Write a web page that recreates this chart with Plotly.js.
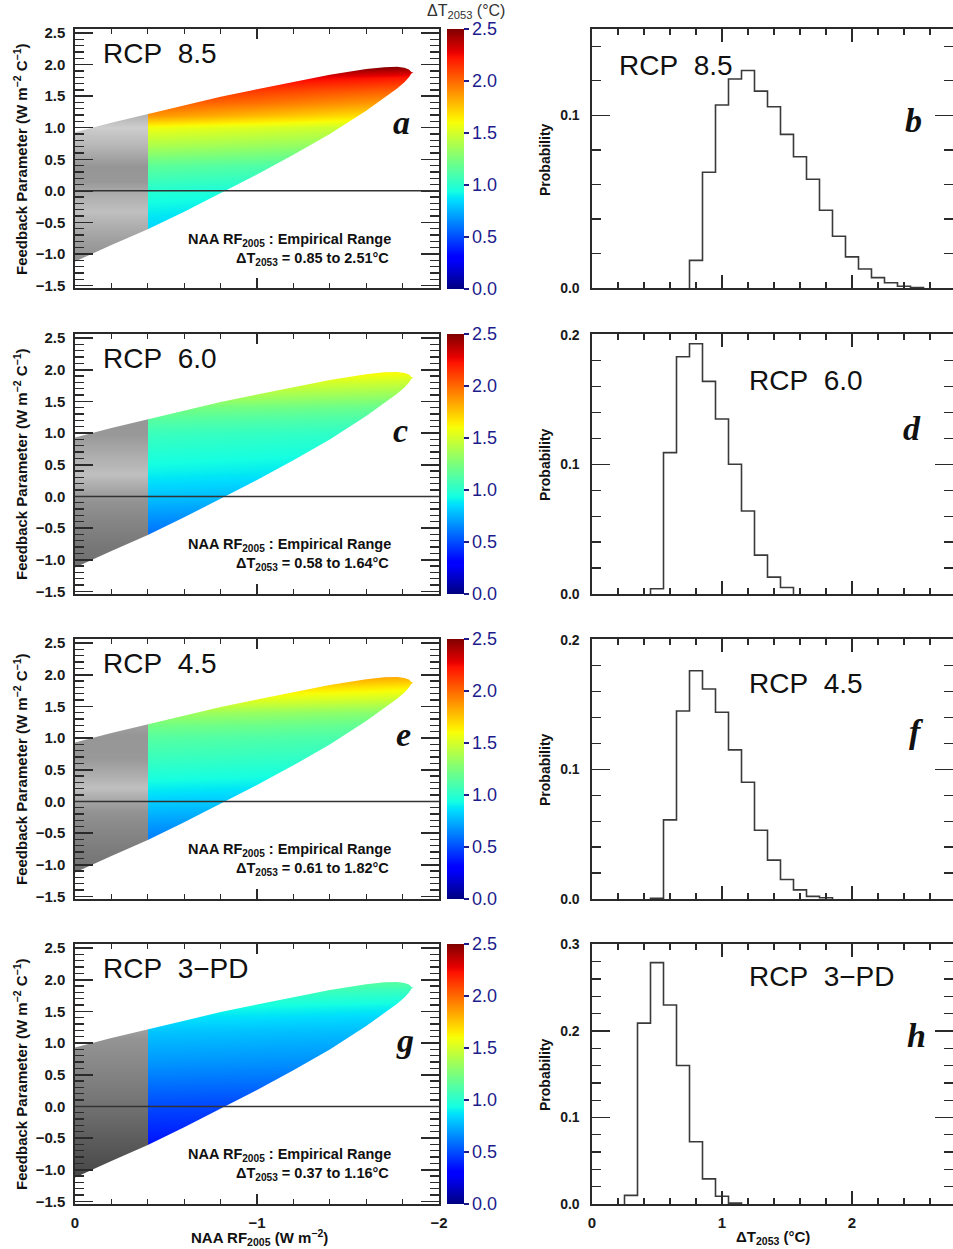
<!DOCTYPE html>
<html>
<head>
<meta charset="utf-8">
<script src="https://cdn.plot.ly/plotly-3.0.1.min.js"></script>
<style>html,body{margin:0;padding:0;background:#fff;}#chart{width:953px;height:1249px;}</style>
</head>
<body>
<div id="chart"></div>
<script>
// ---------------- DATA ----------------
const scenarios = ['RCP\u00a0\u00a08.5', 'RCP\u00a0\u00a06.0', 'RCP\u00a0\u00a04.5', 'RCP\u00a0\u00a03\u2212PD'];
const panelLettersLeft = ['a', 'c', 'e', 'g'];
const panelLettersRight = ['b', 'd', 'f', 'h'];
const dTRanges = ['0.85 to 2.51', '0.58 to 1.64', '0.61 to 1.82', '0.37 to 1.16'];

// empirical range boundary (NAA RF2005, feedback parameter)
const upperRF = [0, -0.2, -0.4, -0.6, -0.8, -1.0, -1.2, -1.4, -1.6, -1.7, -1.77, -1.81, -1.835, -1.848];
const upperLambda = [0.93, 1.08, 1.22, 1.36, 1.49, 1.61, 1.73, 1.84, 1.93, 1.96, 1.965, 1.95, 1.925, 1.885];
const lowerRF = [0, -0.2, -0.4, -0.6, -0.8, -1.0, -1.2, -1.4, -1.6, -1.7, -1.77, -1.81, -1.835, -1.848];
const lowerLambda = [-1.12, -0.86, -0.61, -0.33, -0.04, 0.26, 0.57, 0.90, 1.27, 1.47, 1.62, 1.72, 1.80, 1.86];
const empiricalRFEdge = -0.4;   // left of this: outside empirical range (grey)

// DeltaT2053 sampled on a coarse grid (rows: feedback parameter, cols: RF)
const gridRF = [-0.4, -1.0, -1.6, -1.9];
const gridLambda = [-1.2, -0.8, -0.4, 0, 0.4, 0.7, 1.0, 1.2, 1.4, 1.6, 1.8, 2.0];
const dT_rcp85 = [
  [0.74, 0.70, 0.66, 0.64],
  [0.80, 0.77, 0.74, 0.72],
  [0.88, 0.85, 0.82, 0.80],
  [0.98, 0.95, 0.92, 0.90],
  [1.16, 1.12, 1.08, 1.06],
  [1.38, 1.33, 1.28, 1.25],
  [1.58, 1.52, 1.46, 1.43],
  [1.88, 1.78, 1.68, 1.63],
  [2.05, 1.98, 1.88, 1.82],
  [2.20, 2.12, 2.04, 2.00],
  [2.40, 2.30, 2.24, 2.20],
  [2.68, 2.62, 2.56, 2.52]
];
const dT_rcp60 = [
  [0.46, 0.44, 0.42, 0.41],
  [0.53, 0.51, 0.49, 0.48],
  [0.65, 0.63, 0.61, 0.60],
  [0.79, 0.77, 0.75, 0.74],
  [0.91, 0.89, 0.87, 0.86],
  [0.98, 0.96, 0.94, 0.93],
  [1.05, 1.03, 1.01, 1.00],
  [1.13, 1.11, 1.09, 1.07],
  [1.24, 1.22, 1.19, 1.17],
  [1.40, 1.37, 1.33, 1.31],
  [1.55, 1.52, 1.48, 1.46],
  [1.72, 1.69, 1.66, 1.64]
];
const dT_rcp45 = [
  [0.48, 0.46, 0.44, 0.43],
  [0.56, 0.54, 0.52, 0.51],
  [0.68, 0.66, 0.64, 0.63],
  [0.82, 0.80, 0.78, 0.77],
  [0.96, 0.94, 0.92, 0.91],
  [1.05, 1.03, 1.01, 1.00],
  [1.13, 1.11, 1.09, 1.08],
  [1.22, 1.20, 1.17, 1.15],
  [1.36, 1.33, 1.29, 1.27],
  [1.56, 1.52, 1.47, 1.44],
  [1.75, 1.71, 1.66, 1.63],
  [1.95, 1.92, 1.88, 1.85]
];
const dT_rcp3pd = [
  [0.23, 0.22, 0.21, 0.20],
  [0.31, 0.30, 0.29, 0.28],
  [0.40, 0.39, 0.38, 0.37],
  [0.49, 0.48, 0.47, 0.46],
  [0.60, 0.59, 0.58, 0.57],
  [0.68, 0.67, 0.66, 0.65],
  [0.75, 0.74, 0.73, 0.72],
  [0.80, 0.79, 0.78, 0.77],
  [0.87, 0.86, 0.84, 0.83],
  [0.95, 0.94, 0.92, 0.91],
  [1.06, 1.05, 1.03, 1.02],
  [1.19, 1.18, 1.16, 1.15]
];
const dTGrids = [dT_rcp85, dT_rcp60, dT_rcp45, dT_rcp3pd];

// probability histograms of DeltaT2053 (bin centres, width 0.1)
const binWidth = 0.1;
const bins_rcp85 = [0.8, 0.9, 1.0, 1.1, 1.2, 1.3, 1.4, 1.5, 1.6, 1.7, 1.8, 1.9, 2.0, 2.1, 2.2, 2.3, 2.4, 2.5];
const prob_rcp85 = [0.016, 0.067, 0.106, 0.121, 0.126, 0.114, 0.105, 0.089, 0.076, 0.063, 0.045, 0.030, 0.018, 0.011, 0.006, 0.003, 0.001, 0.0003];
const bins_rcp60 = [0.5, 0.6, 0.7, 0.8, 0.9, 1.0, 1.1, 1.2, 1.3, 1.4, 1.5];
const prob_rcp60 = [0.004, 0.109, 0.183, 0.193, 0.164, 0.135, 0.100, 0.064, 0.030, 0.013, 0.005];
const bins_rcp45 = [0.5, 0.6, 0.7, 0.8, 0.9, 1.0, 1.1, 1.2, 1.3, 1.4, 1.5, 1.6, 1.7, 1.8];
const prob_rcp45 = [0.0005, 0.061, 0.145, 0.176, 0.162, 0.144, 0.115, 0.090, 0.053, 0.030, 0.015, 0.007, 0.002, 0.001];
const bins_rcp3pd = [0.3, 0.4, 0.5, 0.6, 0.7, 0.8, 0.9, 1.0, 1.1];
const prob_rcp3pd = [0.010, 0.209, 0.279, 0.230, 0.160, 0.072, 0.029, 0.009, 0.001];
const histBins = [bins_rcp85, bins_rcp60, bins_rcp45, bins_rcp3pd];
const histProb = [prob_rcp85, prob_rcp60, prob_rcp45, prob_rcp3pd];
const probAxisMax = [0.15, 0.2005, 0.2005, 0.3005];

// ---------------- STYLE / LAYOUT ----------------
const W = 953, H = 1249;
const FONT = 'Liberation Sans, Arial, sans-serif';
const SERIF = 'Liberation Serif, Times New Roman, serif';
const NAVY = '#1c1c8c';
const INK = '#1a1a1a';
const px = x => x / W;
const py = y => 1 - y / H;
const rowTop = [29, 334, 639, 944];
const rowH = 260;

const jet = [
  [0, 'rgb(0,0,128)'], [0.11, 'rgb(0,0,255)'], [0.125, 'rgb(0,0,255)'],
  [0.34, 'rgb(0,219,255)'], [0.35, 'rgb(0,229,247)'], [0.375, 'rgb(21,255,226)'],
  [0.5, 'rgb(123,255,123)'], [0.64, 'rgb(247,255,8)'], [0.66, 'rgb(255,236,0)'],
  [0.89, 'rgb(255,19,0)'], [0.91, 'rgb(232,0,0)'], [1, 'rgb(128,0,0)']
];
const greyScale = [
  [0, 'rgb(20,20,20)'], [0.108, 'rgb(75,75,75)'], [0.2, 'rgb(115,115,115)'],
  [0.308, 'rgb(148,148,148)'], [0.36, 'rgb(192,192,192)'], [0.42, 'rgb(152,152,152)'],
  [0.46, 'rgb(150,150,150)'], [0.552, 'rgb(182,182,182)'], [0.632, 'rgb(205,205,205)'],
  [0.8, 'rgb(170,170,170)'], [1, 'rgb(90,90,90)']
];

const data = [];
const layout = {
  width: W, height: H, margin: {l: 0, r: 0, t: 0, b: 0},
  paper_bgcolor: '#fff', plot_bgcolor: '#fff', showlegend: false,
  font: {family: FONT, color: INK},
  annotations: [], shapes: []
};

const axName = (n, c) => (n === 1 ? c : c + n);
const axKey = (n, c) => (n === 1 ? c + 'axis' : c + 'axis' + n);

for (let k = 0; k < 4; k++) {
  const li = 2 * k + 1, ri = 2 * k + 2;
  const top = rowTop[k], bot = rowTop[k] + rowH - (k === 0 ? 1 : 0);
  const ydom = [py(bot), py(top)];
  const lx = axName(li, 'x'), ly = axName(li, 'y');
  const rx = axName(ri, 'x'), ry = axName(ri, 'y');
  const grid = dTGrids[k];

  // colour field (inside empirical range)
  data.push({
    type: 'heatmap', x: gridRF, y: gridLambda, z: grid, xaxis: lx, yaxis: ly,
    zsmooth: 'best', zmin: 0, zmax: 2.5, colorscale: jet, hoverinfo: 'skip',
    showscale: true,
    colorbar: {
      x: px(447), xanchor: 'left', xpad: 0, thickness: 17, thicknessmode: 'pixels',
      y: py(top), yanchor: 'top', ypad: 0, len: rowH / H, lenmode: 'fraction',
      outlinewidth: 0, tickvals: [0, 0.5, 1, 1.5, 2, 2.5],
      ticktext: ['0.0', '0.5', '1.0', '1.5', '2.0', '2.5'],
      ticks: 'outside', ticklen: 5, tickwidth: 2, tickcolor: NAVY,
      tickfont: {family: FONT, size: 18, color: NAVY}
    }
  });
  // grey field (outside empirical range)
  data.push({
    type: 'heatmap', x: [0, empiricalRFEdge / 2, empiricalRFEdge], y: gridLambda,
    z: grid.map(r => [r[0], r[0]]), xaxis: lx, yaxis: ly,
    zsmooth: 'best', zmin: 0, zmax: 2.5, colorscale: greyScale, showscale: false, hoverinfo: 'skip'
  });
  // white masks outside the boundary
  const tipX = upperRF[upperRF.length - 1];
  data.push({
    type: 'scatter', mode: 'lines', xaxis: lx, yaxis: ly, hoverinfo: 'skip',
    x: [0.1].concat(upperRF, [tipX - 0.012, -1.9, -2.2, -2.2, 0.1]),
    y: [upperLambda[0]].concat(upperLambda, [1.873, 1.6, 1.6, 2.9, 2.9]),
    fill: 'toself', fillcolor: '#ffffff', line: {width: 0, color: 'rgba(0,0,0,0)'}
  });
  data.push({
    type: 'scatter', mode: 'lines', xaxis: lx, yaxis: ly, hoverinfo: 'skip',
    x: [0.1].concat(lowerRF, [tipX - 0.012, -1.9, -2.2, -2.2, 0.1]),
    y: [lowerLambda[0]].concat(lowerLambda, [1.873, 2.1, 2.1, -1.8, -1.8]),
    fill: 'toself', fillcolor: '#ffffff', line: {width: 0, color: 'rgba(0,0,0,0)'}
  });

  // histogram outline
  const b = histBins[k], p = histProb[k];
  const hx = [b[0] - binWidth / 2], hy = [0];
  for (let i = 0; i < b.length; i++) {
    hx.push(b[i] - binWidth / 2, b[i] + binWidth / 2);
    hy.push(p[i], p[i]);
  }
  hx.push(b[b.length - 1] + binWidth / 2); hy.push(0);
  data.push({
    type: 'scatter', mode: 'lines', x: hx, y: hy, xaxis: rx, yaxis: ry,
    line: {color: '#3a3a3a', width: 1.6}, hoverinfo: 'skip'
  });

  const bottomRow = (k === 3);
  const common = {showgrid: false, zeroline: false, showline: true, linecolor: '#2a2a2a', linewidth: 1.6,
                  mirror: 'ticks', ticks: 'inside', tickcolor: '#2a2a2a', tickwidth: 1.5,
                  tickfont: {family: FONT, size: 15, color: INK, weight: 'bold'}, fixedrange: true};

  layout[axKey(li, 'x')] = Object.assign({}, common, {
    domain: [px(75), px(439)], anchor: ly, range: [0, -2], dtick: 1, tick0: 0, ticklen: 10,
    minor: {ticks: 'inside', dtick: 0.2, ticklen: 5, tickcolor: '#2a2a2a', tickwidth: 1.3},
    showticklabels: bottomRow, ticklabelstandoff: 4
  });
  layout[axKey(li, 'y')] = Object.assign({}, common, {
    domain: ydom, anchor: lx, range: [-1.54, 2.565], dtick: 0.5, tick0: 0, ticklen: 18,
    tickformat: '.1f',
    minor: {ticks: 'inside', dtick: 0.1, ticklen: 9, tickcolor: '#2a2a2a', tickwidth: 1.3},
    ticklabelstandoff: 5
  });
  layout[axKey(ri, 'x')] = Object.assign({}, common, {
    domain: [px(592), 1], anchor: ry, range: [0, 2.777], dtick: 1, tick0: 0, ticklen: 13,
    minor: {ticks: 'inside', dtick: 0.2, ticklen: 6, tickcolor: '#2a2a2a', tickwidth: 1.3},
    showticklabels: bottomRow, ticklabelstandoff: 4
  });
  layout[axKey(ri, 'y')] = Object.assign({}, common, {
    domain: ydom, anchor: rx, range: [0, probAxisMax[k]], dtick: 0.1, tick0: 0, ticklen: 18,
    tickformat: '.1f',
    tickfont: {family: FONT, size: 14, color: INK, weight: 'bold'},
    minor: {ticks: 'inside', dtick: 0.02, ticklen: 9, tickcolor: '#2a2a2a', tickwidth: 1.3},
    ticklabelstandoff: 8
  });

  // zero line
  layout.shapes.push({type: 'line', xref: lx, yref: ly, x0: 0, x1: -2, y0: 0, y1: 0,
                      line: {color: '#333', width: 1.5}, layer: 'above'});

  const dy = 305 * k;
  const A = layout.annotations;
  // scenario labels
  A.push({xref: 'paper', yref: 'paper', x: px(101), y: py(53 + dy), xanchor: 'left', yanchor: 'middle',
          text: scenarios[k], showarrow: false, font: {family: FONT, size: 28, color: '#111'}});
  const rLab = [[617, 65], [747, 381], [747, 683], [747, 976]][k];
  A.push({xref: 'paper', yref: 'paper', x: px(rLab[0]), y: py(rLab[1]), xanchor: 'left', yanchor: 'middle',
          text: scenarios[k], showarrow: false, font: {family: FONT, size: 28, color: '#111'}});
  // panel letters
  const lPos = [[401, 123], [400, 430], [403, 734], [405, 1040]][k];
  const rPos = [[913, 120], [912, 428], [916, 731], [916, 1035]][k];
  A.push({xref: 'paper', yref: 'paper', x: px(lPos[0]), y: py(lPos[1]), xanchor: 'center', yanchor: 'middle',
          text: panelLettersLeft[k], showarrow: false,
          font: {family: SERIF, size: 34, color: '#111', style: 'italic', weight: 'bold'}});
  A.push({xref: 'paper', yref: 'paper', x: px(rPos[0]), y: py(rPos[1]), xanchor: 'center', yanchor: 'middle',
          text: panelLettersRight[k], showarrow: false,
          font: {family: SERIF, size: 34, color: '#111', style: 'italic', weight: 'bold'}});
  // empirical range text
  A.push({xref: 'paper', yref: 'paper', x: px(393), y: py(240 + dy), xanchor: 'right', yanchor: 'middle',
          text: 'NAA RF<sub>2005</sub> : Empirical Range', showarrow: false,
          font: {family: FONT, size: 14.5, color: '#111', weight: 'bold'}});
  A.push({xref: 'paper', yref: 'paper', x: px(391), y: py(259 + dy), xanchor: 'right', yanchor: 'middle',
          text: '\u0394T<sub>2053</sub> = ' + dTRanges[k] + '\u00b0C', showarrow: false,
          font: {family: FONT, size: 14.5, color: '#111', weight: 'bold'}});
  // y axis titles
  A.push({xref: 'paper', yref: 'paper', x: px(20), y: py(top + rowH / 2), xanchor: 'center', yanchor: 'middle',
          textangle: -90, text: 'Feedback Parameter (W m<sup>\u22122</sup> C<sup>\u22121</sup>)', showarrow: false,
          font: {family: FONT, size: 15, color: '#111', weight: 'bold'}});
  A.push({xref: 'paper', yref: 'paper', x: px(545), y: py(top + 131), xanchor: 'center', yanchor: 'middle',
          textangle: -90, text: 'Probability', showarrow: false,
          font: {family: FONT, size: 14, color: '#111', weight: 'bold'}});
}

// bottom axis titles and colourbar title
layout.annotations.push({xref: 'paper', yref: 'paper', x: px(259), y: py(1237), xanchor: 'center', yanchor: 'middle',
  text: 'NAA RF<sub>2005</sub> (W m<sup>\u22122</sup>)', showarrow: false,
  font: {family: FONT, size: 15, color: '#111', weight: 'bold'}});
layout.annotations.push({xref: 'paper', yref: 'paper', x: px(773), y: py(1237), xanchor: 'center', yanchor: 'middle',
  text: '\u0394T<sub>2053</sub> (\u00b0C)', showarrow: false,
  font: {family: FONT, size: 15, color: '#111', weight: 'bold'}});
layout.annotations.push({xref: 'paper', yref: 'paper', x: px(466), y: py(1), xanchor: 'center', yanchor: 'top',
  text: '\u0394T<sub>2053</sub> (\u00b0C)', showarrow: false, borderpad: 0,
  font: {family: FONT, size: 16, color: '#333'}});

Plotly.newPlot('chart', data, layout, {staticPlot: true, displayModeBar: false});
</script>
</body>
</html>
